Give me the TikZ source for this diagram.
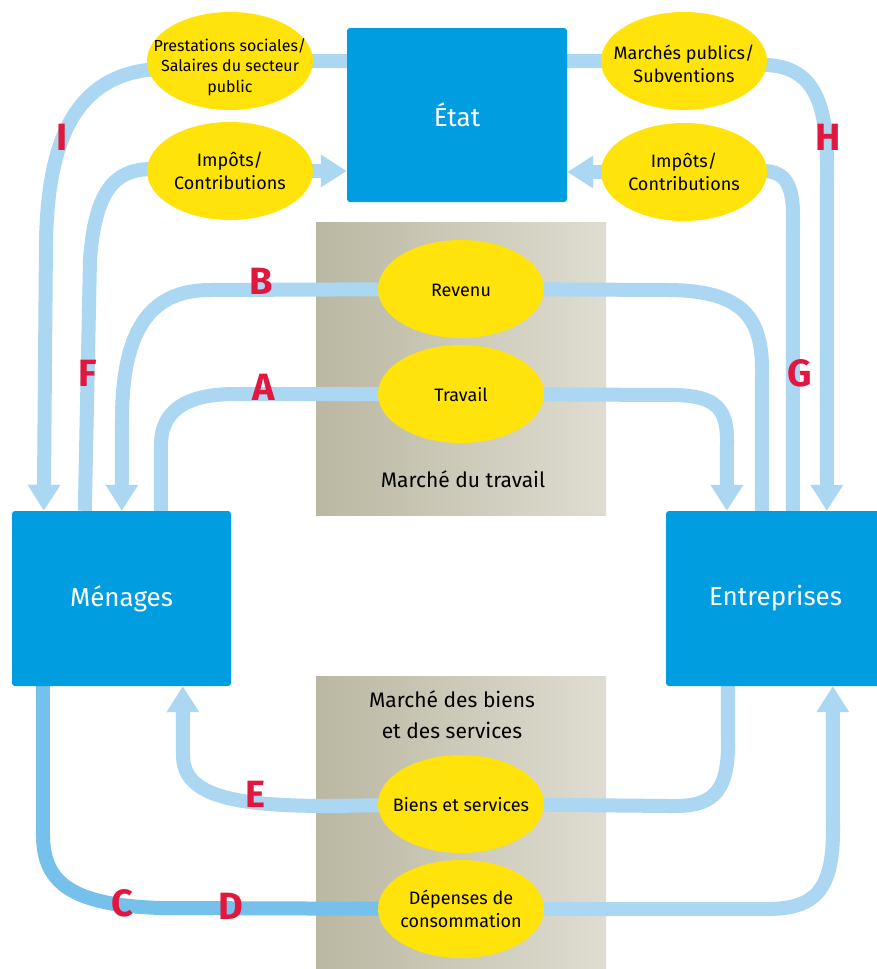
\documentclass[tikz,border=0pt]{standalone}
\usepackage{fontspec}
\setmainfont{Fira Sans}
\usetikzlibrary{shapes.geometric,arrows.meta,calc}
\definecolor{boxblue}{RGB}{0,158,224}
\definecolor{flow}{RGB}{171,215,243}
\definecolor{flowdark}{RGB}{118,193,235}
\definecolor{ell}{RGB}{255,227,11}
\definecolor{lab}{RGB}{226,23,63}
\definecolor{mktL}{RGB}{186,183,162}
\definecolor{mktR}{RGB}{223,221,209}
\pgfdeclarelayer{bg}
\pgfdeclarelayer{mid}
\pgfsetlayers{bg,mid,main}
\newcommand{\zbox}[2][0pt]{\makebox[0pt][c]{\raisebox{\dimexpr-0.38em-#1\relax}[0pt][0pt]{\begin{tabular}{@{}c@{}}#2\end{tabular}}}}
\tikzset{
  agent/.style={fill=boxblue, rounded corners=3pt, minimum width=219pt, minimum height=175pt, text=white, font=\fontsize{26}{30}\selectfont, inner sep=0pt},
  flux/.style={ellipse, fill=ell, minimum width=166pt, minimum height=98pt, inner sep=0pt, font=\fontsize{18}{23}\selectfont},
  market/.style={rectangle, left color=mktL, right color=mktR, minimum width=290pt, inner sep=0pt},
  mkttext/.style={align=center, font=\fontsize{21}{31}\selectfont},
  flowline/.style={draw=flow, line width=14pt},
  flowtip/.style={-{Triangle[width=31pt,length=26pt]}},
  lettre/.style={text=lab, font=\fontsize{38}{38}\selectfont\bfseries, inner sep=0pt}
}
\begin{document}
\begin{tikzpicture}[x=1pt,y=-1pt]
\useasboundingbox (0,0) rectangle (877,969);
\begin{pgfonlayer}{bg}
\fill[white] (0,0) rectangle (877,969);
% markets
\node[market, minimum height=293pt] (mt) at (461,368.5) {};
\node[market, minimum height=300pt] (mb) at (461,826) {};
\end{pgfonlayer}
\node[mkttext] (mttext) at (463,479) {Marché du travail};
\node[mkttext] (mbtext) at (452,715) {Marché des biens\\et des services};
% agents
\node[agent, minimum width=220pt, minimum height=174pt] (etat) at (457,115) {État};
\node[agent] (men) at (121.5,598.5) {Ménages};
\node[agent] (ent) at (775.5,598.5) {Entreprises};
% flux
\node[flux, font=\fontsize{16}{20.5}\selectfont] (prest) at (230,61) {\zbox[5pt]{Prestations sociales/\\Salaires du secteur\\public}};
\node[flux] (impL) at (230,171) {\zbox{Impôts/\\Contributions}};
\node[flux] (mp) at (684,61) {\zbox[3pt]{Marchés publics/\\Subventions}};
\node[flux] (impR) at (684,172) {\zbox{Impôts/\\Contributions}};
\node[flux] (rev) at (461,289) {\zbox{Revenu}};
\node[flux] (trav) at (461,394) {\zbox{Travail}};
\node[flux] (biens) at (461,804) {\zbox{Biens et services}};
\node[flux] (dep) at (461,909) {\zbox{Dépenses de\\consommation}};
% connectors
\begin{pgfonlayer}{mid}
% I
\draw[flowline,flowtip] (etat.west |- prest.center) -- (prest.center) -- (147,70) .. controls (70,80) and (48,150) .. (46,240) -- ([xshift=32pt]men.north west);
% F
\draw[flowline] ([xshift=73pt]men.north west) -- (90,260) .. controls (95,190) and (115,170) .. (150,169) -- (impL.center);
\draw[flowline,flowtip] (impL.center) -- (etat.west |- impL.center);
% B
\draw[flowline,flowtip] (rev.center) -- (210,290) .. controls (150,290) and (122,330) .. (122,420) -- ([xshift=110pt]men.north west);
% A
\draw[flowline] ([xshift=149pt]men.north west) -- (161,445) .. controls (161,408) and (190,394) .. (235,394) -- (trav.center);
% Revenu -> Entreprises
\draw[flowline] (rev.center) -- (670,290) .. controls (745,291) and (762,320) .. (762,370) -- ([xshift=96pt]ent.north west);
% Travail -> Entreprises
\draw[flowline,flowtip] (trav.center) -- (675,395) .. controls (715,396) and (727,408) .. (727,440) -- ([xshift=61pt]ent.north west);
% G
\draw[flowline] ([xshift=127pt]ent.north west) -- (793,215) .. controls (793,185) and (785,172) .. (765,171) -- (impR.center);
\draw[flowline,flowtip] (impR.center) -- (etat.east |- impR.center);
% H
\draw[flowline,flowtip] (etat.east |- mp.center) -- (mp.center) -- (768,65) .. controls (812,68) and (827,100) .. (827,165) -- ([xshift=161pt]ent.north west);
% E
\draw[flowline,flowtip] ([xshift=62pt]ent.south west) -- (728,745) .. controls (728,795) and (710,807) .. (670,806) -- (biens.center) -- (330,806) .. controls (230,806) and (183,795) .. (183,755) -- ([xshift=171pt]men.south west);
% C / D
\draw[flowline,draw=flowdark] ([xshift=31pt]men.south west) -- (43,835) .. controls (43,885) and (75,905) .. (160,908) -- (dep.center);
% Dépenses -> Entreprises
\draw[flowline,flowtip] (dep.center) -- (770,909) .. controls (815,908) and (833,890) .. (833,830) -- ([xshift=167pt]ent.south west);
\end{pgfonlayer}
% letters
\node[lettre] (lI) at (62,137) {I};
\node[lettre] (lH) at (828,137) {H};
\node[lettre] (lB) at (261,281) {B};
\node[lettre] (lA) at (264,387) {A};
\node[lettre] (lF) at (88,373) {F};
\node[lettre] (lG) at (800,373) {G};
\node[lettre] (lE) at (255,794) {E};
\node[lettre] (lC) at (122,903) {C};
\node[lettre] (lD) at (231,906) {D};
\end{tikzpicture}
\end{document}
